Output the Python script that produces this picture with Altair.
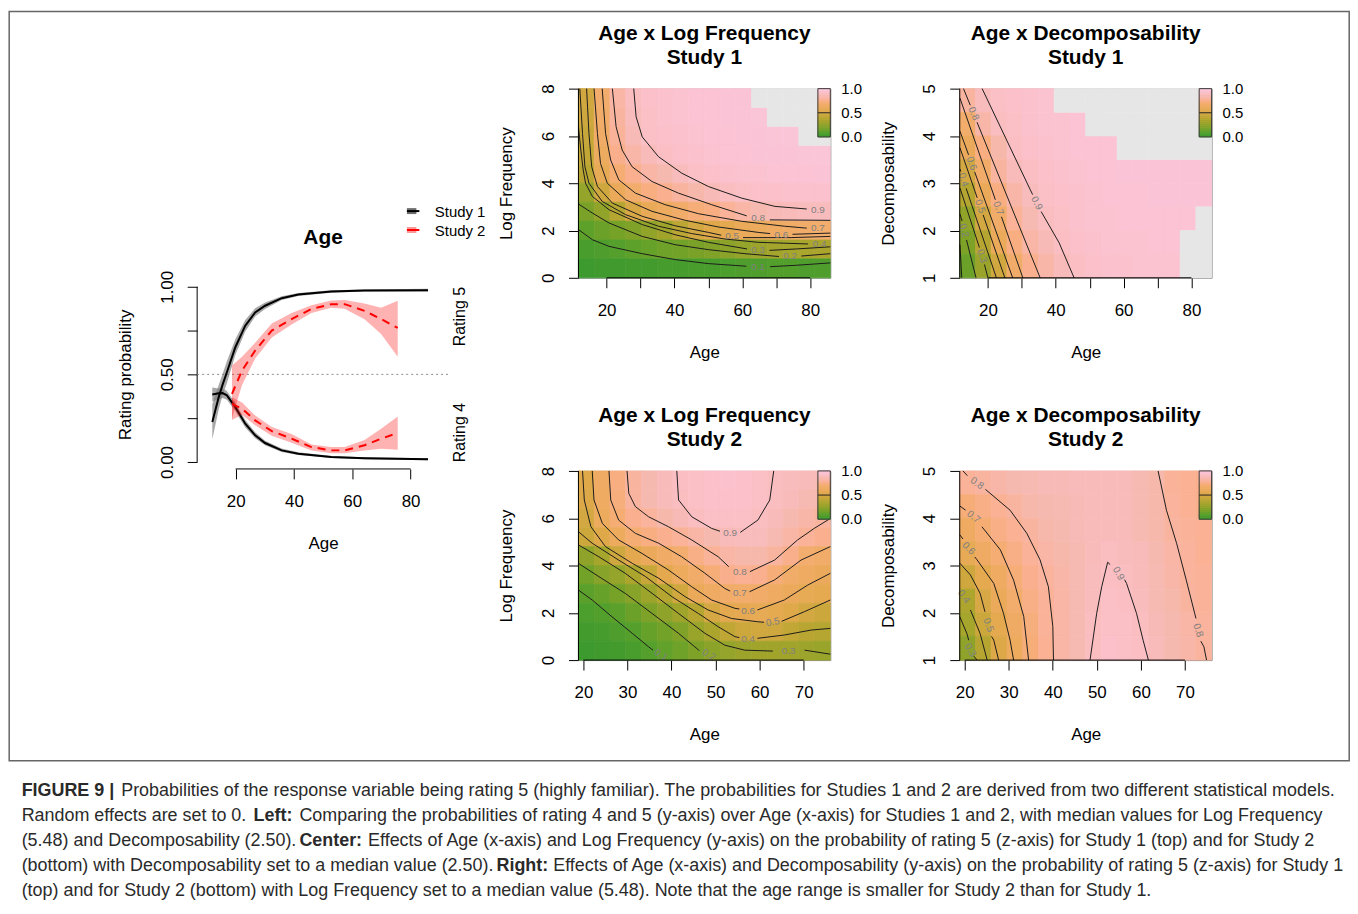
import altair as alt
import pandas as pd

# =====================================================================
# DATA
# =====================================================================
# ---- Left panel: probability of rating 5 / rating 4 over Age ----
S1_AGE = [12, 14.2, 15.5, 17.0, 19.9, 23.3, 26.7, 30.1, 35.8, 41.5, 52.8, 64.2, 86]
S1_R5 = [0.228, 0.37, 0.44, 0.512, 0.655, 0.778, 0.854, 0.892, 0.935, 0.956, 0.973, 0.979, 0.981]
S1_R5_LO = [0.13, 0.30, 0.38, 0.45, 0.61, 0.745, 0.83, 0.873, 0.924, 0.948, 0.966, 0.973, 0.973]
S1_R5_HI = [0.33, 0.44, 0.50, 0.575, 0.70, 0.81, 0.877, 0.91, 0.946, 0.965, 0.98, 0.985, 0.989]
S1_R4 = [0.385, 0.392, 0.393, 0.38, 0.313, 0.218, 0.152, 0.108, 0.066, 0.047, 0.028, 0.021, 0.015]
S1_R4_LO = [0.345, 0.36, 0.365, 0.355, 0.29, 0.197, 0.135, 0.095, 0.057, 0.04, 0.022, 0.015, 0.009]
S1_R4_HI = [0.425, 0.42, 0.42, 0.405, 0.336, 0.24, 0.17, 0.121, 0.076, 0.055, 0.034, 0.027, 0.021]

S2_AGE = [18.75, 22.2, 26.7, 32.4, 39.2, 46.0, 52.8, 57.4, 64.2, 69.9, 75.6]
S2_R5 = [0.389, 0.522, 0.636, 0.75, 0.816, 0.873, 0.901, 0.901, 0.863, 0.816, 0.765]
S2_R5_LO = [0.25, 0.44, 0.59, 0.71, 0.785, 0.85, 0.88, 0.875, 0.815, 0.73, 0.60]
S2_R5_HI = [0.55, 0.60, 0.68, 0.79, 0.85, 0.895, 0.922, 0.925, 0.905, 0.88, 0.92]
S2_R4 = [0.332, 0.304, 0.237, 0.176, 0.133, 0.085, 0.066, 0.066, 0.095, 0.133, 0.165]
S2_R4_LO = [0.24, 0.27, 0.21, 0.15, 0.11, 0.065, 0.05, 0.05, 0.065, 0.075, 0.07]
S2_R4_HI = [0.37, 0.34, 0.265, 0.20, 0.16, 0.10, 0.085, 0.085, 0.125, 0.19, 0.26]

LEGEND_LABELS = ["Study 1", "Study 2"]
RATING_LABELS = ["Rating 5", "Rating 4"]
LEFT_X_TICKS = [20, 40, 60, 80]
LEFT_Y_TICKS = [0, 0.25, 0.5, 0.75, 1.0]

# ---- Heatmap grids: probability of rating 5 (x100), None = not estimated ----
TL_AGE = [14.02, 18.66, 23.30, 27.94, 32.58, 37.22, 41.86, 46.50, 51.14, 55.78, 60.42, 65.06, 69.70, 74.35, 78.99, 83.63]
TL_LF = [7.6, 6.8, 6.0, 5.2, 4.4, 3.6, 2.8, 2.0, 1.2, 0.4]
TL_Z = [
    [48, 69, 82, 90, 93, 94, 95, 96, 96, 97, 97, None, None, None, None, None],
    [47, 67, 81, 89, 92, 94, 95, 96, 96, 97, 97, 98, None, None, None, None],
    [45, 66, 79, 87, 92, 93, 94, 95, 96, 96, 97, 97, 98, 98, None, None],
    [43, 63, 76, 83, 88, 91, 93, 94, 95, 96, 96, 97, 97, 97, 98, 98],
    [40, 58, 71, 77, 82, 85, 89, 92, 93, 94, 95, 95, 96, 96, 96, 97],
    [27, 47, 60, 69, 74, 77, 81, 84, 87, 90, 92, 93, 93, 94, 94, 94],
    [19, 26, 38, 51, 59, 63, 68, 72, 74, 79, 82, 85, 87, 88, 89, 89],
    [12, 15, 18, 21, 26, 31, 41, 49, 53, 56, 60, 62, 64, 66, 68, 69],
    [6, 8, 10, 12, 14, 16, 17, 19, 21, 24, 27, 30, 32, 33, 34, 35],
    [2, 3, 3, 4, 4, 5, 5, 6, 6, 7, 8, 8, 9, 9, 8, 8],
]
TR_AGE = TL_AGE
TR_DEC = [4.75, 4.25, 3.75, 3.25, 2.75, 2.25, 1.75, 1.25]
TR_Z = [
    [81, 89, 92, 93, 94, 95, None, None, None, None, None, None, None, None, None, None],
    [69, 83, 90, 92, 94, 95, 95, 96, None, None, None, None, None, None, None, None],
    [61, 74, 84, 91, 93, 94, 95, 96, 96, 96, None, None, None, None, None, None],
    [49, 68, 81, 88, 91, 93, 94, 95, 96, 96, 97, 97, 97, 97, 97, 97],
    [38, 60, 74, 83, 89, 92, 93, 94, 95, 96, 96, 96, 97, 97, 97, 97],
    [26, 49, 67, 79, 86, 90, 92, 94, 95, 95, 96, 96, 96, 96, 96, None],
    [20, 39, 60, 74, 82, 87, 91, 93, 94, 95, 95, 95, 96, 96, None, None],
    [15, 29, 48, 68, 77, 83, 88, 91, 93, 94, 94, 95, 95, 95, None, None],
]
BL_AGE = [20.66, 24.23, 27.80, 31.38, 34.95, 38.53, 42.10, 45.67, 49.25, 52.82, 56.40, 59.97, 63.55, 67.12, 70.70, 74.26]
BL_LF = [7.6, 6.8, 6.0, 5.2, 4.4, 3.6, 2.8, 2.0, 1.2, 0.4]
BL_Z = [
    [53, 65, 74, 81, 85, 88, 91, 92, 93, 94, 93, 92, 90, 89, 88, 87],
    [52, 64, 73, 81, 85, 88, 90, 92, 93, 93, 93, 92, 90, 88, 86, 85],
    [49, 62, 71, 77, 80, 84, 87, 90, 92, 92, 92, 90, 88, 85, 83, 81],
    [46, 53, 62, 71, 74, 77, 79, 82, 85, 88, 89, 89, 86, 82, 79, 77],
    [25, 33, 47, 55, 61, 66, 70, 75, 79, 82, 84, 84, 81, 76, 70, 67],
    [17, 23, 27, 35, 45, 55, 62, 67, 72, 76, 78, 77, 72, 67, 64, 61],
    [11, 14, 18, 23, 30, 38, 48, 60, 64, 67, 69, 68, 64, 61, 58, 56],
    [7, 9, 11, 15, 20, 25, 31, 39, 50, 55, 57, 58, 56, 53, 49, 46],
    [4, 5, 8, 10, 14, 17, 21, 28, 35, 42, 46, 48, 47, 43, 40, 38],
    [2, 3, 4, 6, 10, 13, 16, 20, 24, 27, 30, 31, 31, 31, 30, 28],
]
BR_AGE = BL_AGE
BR_DEC = [4.75, 4.25, 3.75, 3.25, 2.75, 2.25, 1.75, 1.25]
BR_Z = [
    [79, 81, 83, 85, 86, 87, 87, 88, 88, 88, 88, 86, 84, 79, 78, 77],
    [72, 75, 78, 81, 84, 85, 86, 87, 88, 88, 88, 86, 84, 80, 78, 77],
    [64, 71, 75, 78, 81, 84, 85, 87, 88, 88, 88, 86, 84, 81, 79, 78],
    [58, 65, 71, 75, 79, 82, 84, 86, 88, 90, 89, 88, 85, 82, 80, 78],
    [47, 56, 64, 72, 77, 80, 83, 86, 89, 91, 90, 88, 86, 83, 80, 79],
    [36, 51, 60, 69, 75, 79, 82, 86, 89, 92, 91, 89, 86, 84, 81, 79],
    [33, 46, 56, 65, 73, 79, 82, 86, 90, 92, 92, 90, 87, 85, 82, 80],
    [25, 39, 52, 62, 72, 78, 82, 86, 90, 93, 92, 91, 88, 85, 83, 80],
]

# ---- Contour lines (segments of (age, y) points, broken where labels sit) ----
TL_CONT = [
    [[(11.7, 2.04), (15.8, 1.61), (20.7, 1.33), (30.5, 1.02), (40.2, 0.77), (50.0, 0.60), (61.2, 0.49)], [(68.2, 0.47), (76.0, 0.53), (85.95, 0.63)]],
    [[(11.7, 3.12), (15.8, 2.74), (20.7, 2.32), (30.5, 1.75), (40.2, 1.40), (50.0, 1.19), (60.8, 1.02), (70.8, 0.90)], [(77.4, 0.92), (85.95, 1.02)]],
    [[(11.7, 6.39), (12.4, 5.40), (13.1, 4.56), (13.8, 4.00), (15.8, 3.44), (20.7, 2.88), (30.5, 2.25), (40.2, 1.82), (50.0, 1.50), (61.4, 1.22)], [(68.0, 1.16), (76.0, 1.22), (85.95, 1.31)]],
    [[(12.1, 8.0), (12.9, 6.1), (13.6, 4.70), (14.8, 4.00), (18.7, 3.23), (25.6, 2.67), (35.3, 2.18), (45.1, 1.87), (54.9, 1.64), (64.7, 1.50), (79.4, 1.43)]],
    [[(14.1, 8.0), (14.8, 6.1), (15.6, 4.70), (17.3, 3.86), (21.7, 3.16), (30.5, 2.60), (40.2, 2.20), (50.0, 1.92), (53.8, 1.80)], [(60.2, 1.70), (74.4, 1.70), (85.95, 1.75)]],
    [[(16.3, 8.0), (17.3, 6.1), (18.2, 4.84), (20.2, 4.00), (25.6, 3.30), (33.4, 2.81), (43.2, 2.43), (52.9, 2.15), (64.7, 1.92), (68.2, 1.87)], [(74.8, 1.84), (85.95, 1.89)]],
    [[(18.7, 8.0), (19.7, 6.1), (21.2, 4.98), (23.6, 4.14), (28.5, 3.58), (37.3, 3.09), (47.1, 2.71), (59.8, 2.39), (72.5, 2.18), (79.0, 2.10)]],
    [[(21.7, 8.0), (22.8, 6.39), (24.6, 5.40), (27.5, 4.70), (33.4, 4.07), (41.2, 3.58), (51.0, 3.09), (61.3, 2.62)], [(68.1, 2.45), (85.95, 2.43)]],
    [[(28.0, 8.0), (28.7, 6.81), (30.5, 5.96), (35.3, 5.12), (42.2, 4.42), (50.0, 3.86), (59.8, 3.37), (69.6, 3.02), (79.0, 2.91)]],
]
TL_LABELS = [("0.9", 82.3, 2.88, 0), ("0.8", 64.7, 2.52, 0), ("0.7", 82.3, 2.09, 0), ("0.6", 71.5, 1.83, 0),
             ("0.5", 57.0, 1.75, 0), ("0.4", 82.8, 1.43, 0), ("0.3", 64.7, 1.18, 0), ("0.2", 74.1, 0.90, 0),
             ("0.1", 64.7, 0.47, 0)]

TR_CONT = [
    [[(12.3, 1.0), (11.76, 1.7)]],
    [[(11.76, 2.35), (12.4, 2.2)], [(13.7, 1.8), (16.5, 1.0)]],
    [[(11.76, 2.9), (17.5, 1.64)], [(19.0, 1.28), (20.0, 1.0)]],
    [[(11.76, 3.3), (12.0, 3.25)], [(13.6, 2.89), (22.5, 1.0)]],
    [[(11.76, 3.75), (16.85, 2.69)], [(18.6, 2.33), (25.0, 1.0)]],
    [[(11.76, 4.1), (14.3, 3.6)], [(16.1, 3.24), (27.3, 1.0)]],
    [[(11.76, 4.8), (22.2, 2.65)], [(24.0, 2.29), (30.3, 1.0)]],
    [[(12.8, 5.0), (14.8, 4.65)], [(16.8, 4.29), (35.4, 1.0)]],
    [[(18.3, 5.0), (32.5, 2.86), (33.2, 2.76)], [(35.7, 2.40), (41.0, 1.74), (45.4, 1.0)]],
]
TR_LABELS = [("0.8", 15.8, 4.47, 68), ("0.6", 15.2, 3.42, 70), ("0.4", 12.8, 3.07, 71), ("0.5", 17.7, 2.51, 71),
             ("0.7", 23.1, 2.47, 71), ("0.2", 13.0, 2.0, 76), ("0.3", 18.3, 1.46, 72), ("0.9", 34.4, 2.58, 64)]

BL_CONT = [
    [[(18.87, 2.96), (22.0, 2.54), (26.5, 1.83), (31.1, 1.13), (34.8, 0.56), (35.8, 0.42)]],
    [[(18.87, 4.09), (23.5, 3.53), (29.5, 2.82), (35.6, 1.97), (41.6, 1.13), (45.3, 0.56), (46.3, 0.40)]],
    [[(18.87, 4.87), (23.5, 4.37), (29.5, 3.67), (35.6, 2.82), (41.6, 1.97), (47.6, 1.13), (52.1, 0.63), (56.6, 0.42), (63.0, 0.38)], [(70.2, 0.42), (76.05, 0.25)]],
    [[(18.87, 5.43), (22.0, 4.94), (28.0, 4.23), (34.1, 3.53), (40.1, 2.68), (46.1, 1.97), (50.6, 1.41), (54.4, 0.99), (55.4, 0.95)], [(59.5, 0.92), (65.6, 1.06), (71.7, 1.27), (76.05, 1.34)]],
    [[(19.8, 8.0), (20.2, 6.77), (21.7, 5.64), (25.0, 4.80), (31.1, 4.09), (37.1, 3.46), (43.1, 2.68), (48.3, 2.12), (53.6, 1.76), (59.6, 1.62), (61.0, 1.60)], [(65.0, 1.64), (70.2, 2.05), (76.05, 2.54)]],
    [[(22.0, 8.0), (22.4, 6.77), (24.3, 5.78), (28.0, 5.08), (33.3, 4.51), (39.3, 3.81), (44.6, 3.10), (49.1, 2.54), (54.4, 2.19), (55.4, 2.16)], [(59.5, 2.12), (65.6, 2.54), (70.9, 3.17), (76.05, 3.67)]],
    [[(25.8, 8.0), (26.2, 6.77), (28.0, 5.92), (31.8, 5.36), (37.1, 4.94), (42.3, 4.37), (47.6, 3.67), (52.1, 3.03), (53.3, 2.92)], [(57.7, 2.89), (63.4, 3.39), (69.4, 4.23), (76.05, 4.80)]],
    [[(29.9, 8.0), (30.3, 7.05), (31.8, 6.49), (34.8, 6.06), (39.3, 5.64), (44.6, 5.08), (50.6, 4.37), (53.0, 3.95)], [(57.8, 3.74), (63.4, 4.23), (68.6, 5.08), (72.4, 5.57), (76.05, 5.99)]],
    [[(41.2, 8.0), (41.6, 6.77), (44.6, 6.06), (49.1, 5.57), (51.0, 5.45)], [(55.6, 5.40), (59.6, 5.92), (62.3, 6.77), (63.2, 8.0)]],
]
BL_LABELS = [("0.9", 53.3, 5.39, 0), ("0.8", 55.5, 3.72, 0), ("0.7", 55.5, 2.85, 0), ("0.6", 57.4, 2.09, 0),
             ("0.5", 63.0, 1.60, 348), ("0.4", 57.4, 0.88, 0), ("0.3", 66.6, 0.40, 0), ("0.2", 48.5, 0.22, 30),
             ("0.1", 37.6, 0.22, 30)]

BR_CONT = [
    [[(18.87, 1.92), (20.5, 1.56), (20.9, 1.42)], [(22.1, 1.08), (22.8, 1.0)]],
    [[(21.3, 2.06), (23.5, 1.56), (25.1, 1.0)]],
    [[(18.87, 3.05), (21.3, 2.80), (23.5, 2.41), (24.6, 2.02)], [(26.1, 1.50), (26.6, 1.42), (27.7, 1.0)]],
    [[(18.87, 3.65), (19.6, 3.56)], [(22.3, 3.18), (22.8, 3.12), (26.6, 2.62), (28.8, 1.99), (30.3, 1.42), (31.1, 1.0)]],
    [[(18.87, 4.26), (20.2, 4.17)], [(23.9, 3.82), (28.1, 3.33), (31.1, 2.69), (33.4, 1.92), (34.5, 1.0)]],
    [[(19.6, 5.0), (20.6, 4.9)], [(24.7, 4.61), (30.3, 4.17), (34.1, 3.68), (37.1, 3.12), (39.0, 2.55), (40.0, 1.71), (40.15, 1.0)]],
    [[(48.45, 1.0), (49.96, 1.99), (51.1, 2.55), (52.45, 3.07), (53.0, 3.02)], [(56.3, 2.70), (56.75, 2.62), (59.0, 1.99), (60.5, 1.42), (61.7, 1.0)]],
    [[(63.9, 5.0), (65.8, 4.17), (68.1, 3.47), (70.3, 2.69), (72.2, 1.99), (72.5, 1.88)], [(73.6, 1.40), (74.3, 1.28), (74.9, 1.0)]],
]
BR_LABELS = [("0.8", 22.8, 4.74, 35), ("0.7", 22.0, 4.03, 40), ("0.6", 20.9, 3.36, 45), ("0.5", 25.4, 1.74, 70),
             ("0.4", 19.8, 2.34, 55), ("0.3", 21.3, 1.21, 60), ("0.9", 54.9, 2.83, 60), ("0.8", 73.0, 1.63, 72)]

# ---- colour bar ----
CBAR_STEPS = [0.00, 0.04, 0.08, 0.12, 0.16, 0.20, 0.24, 0.28, 0.32, 0.36, 0.40, 0.44, 0.48,
              0.52, 0.56, 0.60, 0.64, 0.68, 0.72, 0.76, 0.80, 0.84, 0.88, 0.92, 0.96]
CBAR_TICKS = [0.0, 0.5, 1.0]
CBAR_TICK_LABELS = ["0.0", "0.5", "1.0"]

# ---- caption ----
CAPTION = [
    [("FIGURE 9 |", True), ("Probabilities of the response variable being rating 5 (highly familiar). The probabilities for Studies 1 and 2 are derived from two different statistical models.", False)],
    [("Random effects are set to 0.", False), ("Left:", True), ("Comparing the probabilities of rating 4 and 5 (y-axis) over Age (x-axis) for Studies 1 and 2, with median values for Log Frequency", False)],
    [("(5.48) and Decomposability (2.50).", False), ("Center:", True), ("Effects of Age (x-axis) and Log Frequency (y-axis) on the probability of rating 5 (z-axis) for Study 1 (top) and for Study 2", False)],
    [("(bottom) with Decomposability set to a median value (2.50).", False), ("Right:", True), ("Effects of Age (x-axis) and Decomposability (y-axis) on the probability of rating 5 (z-axis) for Study 1", False)],
    [("(top) and for Study 2 (bottom) with Log Frequency set to a median value (5.48). Note that the age range is smaller for Study 2 than for Study 1.", False)],
]

# =====================================================================
# LAYOUT / STYLE
# =====================================================================
FONT = "Liberation Sans"
CAP_FONT = "Liberation Sans"
W, H = 253, 190
LEFT_H = 382
ORIGIN_X, ORIGIN_Y = 198.3, 87.0          # page position of the left panel's view
ROW2_Y = 471.0                            # page y of the second row
FRAME_W = 1.5
FRAME = (9.5, 9.5, 1355.5, 762.0)         # page left, top, right, bottom (stroke centre)
CAP_X = [[22, 122], [22, 255, 301], [22, 301, 370], [22, 499, 556], [22]]
CAP_Y = [793, 818, 843, 868, 893]
CAP_SIZE = 18

Z_STOPS = [0.0, 0.1, 0.25, 0.4, 0.55, 0.7, 0.85, 1.0]
Z_COLORS = ["#36982f", "#55a02c", "#8fa32a", "#b9a632", "#e4a94e", "#f3ad6e", "#f6b9b0", "#fac8de"]
NA_COLOR = "#e6e6e6"
CSCALE = alt.Scale(domain=Z_STOPS, range=Z_COLORS, clamp=True)

ONE = pd.DataFrame({"a": [0]})


def x_axis(values, label_expr=None):
    kw = dict(values=values, domain=False, grid=False, ticks=True, tickSize=10, tickColor="black",
              tickWidth=1, labelFont=FONT, labelFontSize=17, labelColor="black", labelPadding=15,
              labelBaseline="top", labelAlign="center", labelAngle=0, labelFlush=False,
              labelOverlap=False, title="Age", titleFont=FONT, titleFontSize=17,
              titleFontWeight="normal", titleColor="black", titleX=W / 2, titleY=75,
              titleAlign="center", titleBaseline="middle", titleAngle=0)
    if label_expr:
        kw["labelExpr"] = label_expr
    return alt.Axis(**kw)


def y_axis(values, title, title_y, label_expr=None):
    kw = dict(values=values, domain=False, grid=False, ticks=True, tickSize=10, tickColor="black",
              tickWidth=1, labelFont=FONT, labelFontSize=17, labelColor="black", labelPadding=15,
              labelAngle=-90, labelAlign="center", labelBaseline="alphabetic", labelFlush=False,
              labelOverlap=False, title=title, titleFont=FONT, titleFontSize=17,
              titleFontWeight="normal", titleColor="black", titleX=-72, titleY=title_y,
              titleAlign="center", titleBaseline="middle", titleAngle=270)
    if label_expr:
        kw["labelExpr"] = label_expr
    return alt.Axis(**kw)


def grid_df(ages, ys, z):
    hx = (ages[-1] - ages[0]) / (len(ages) - 1) / 2
    hy = abs(ys[0] - ys[-1]) / (len(ys) - 1) / 2
    rows = []
    for r, yv in enumerate(ys):
        for c, xv in enumerate(ages):
            v = z[r][c]
            rows.append({"x": xv - hx, "x2": xv + hx, "y": yv - hy, "y2": yv + hy,
                         "z": None if v is None else v / 100.0, "na": v is None})
    return pd.DataFrame(rows)


def contour_df(cont):
    rows = []
    for li, segs in enumerate(cont):
        for si, seg in enumerate(segs):
            for pi, (xv, yv) in enumerate(seg):
                rows.append({"seg": f"{li}-{si}", "i": pi, "x": xv, "y": yv})
    return pd.DataFrame(rows)


def heat_panel(title, xdom, ydom, ages, ys, z, cont, labels, xticks, xexpr, yticks, ytitle):
    xs = alt.Scale(domain=list(xdom), nice=False, zero=False)
    yscale = alt.Scale(domain=list(ydom), nice=False, zero=False)
    kx = W / (xdom[1] - xdom[0])
    ky = H / (ydom[1] - ydom[0])
    XAX = x_axis(xticks, xexpr)
    YAX = y_axis(yticks, ytitle, H / 2)
    X = alt.X("x:Q", scale=xs, axis=XAX)
    Y = alt.Y("y:Q", scale=yscale, axis=YAX)

    g = grid_df(ages, ys, z)
    layers = []
    layers.append(alt.Chart(g[~g["na"]]).mark_rect(strokeWidth=0.7).encode(
        x=X, x2="x2:Q", y=Y, y2="y2:Q",
        fill=alt.Fill("z:Q", scale=CSCALE, legend=None),
        stroke=alt.Stroke("z:Q", scale=CSCALE, legend=None)))
    na = g[g["na"]]
    if len(na):
        layers.append(alt.Chart(na).mark_rect(fill=NA_COLOR, stroke=NA_COLOR, strokeWidth=0.7).encode(
            x=X, x2="x2:Q", y=Y, y2="y2:Q"))
    layers.append(alt.Chart(contour_df(cont)).mark_line(color="#1c1c1c", strokeWidth=1).encode(
        x=X, y=Y, detail="seg:N", order="i:Q"))
    lab = pd.DataFrame([{"t": t, "x": a, "y": b, "a": ang} for (t, a, b, ang) in labels])
    layers.append(alt.Chart(lab).mark_text(font=FONT, fontSize=10, color="#808080", align="center",
                                           baseline="middle").encode(
        x=X, y=Y, text="t:N", angle=alt.Angle("a:Q", scale=None)))
    # colour bar (inside the top-right corner, like the reference)
    cb_x0 = xdom[1] - 12.5 / kx
    cb_x1 = xdom[1]
    cb_top = ydom[1]
    cb_bot = ydom[1] - 48.5 / ky
    span = cb_top - cb_bot
    step = CBAR_STEPS[1] - CBAR_STEPS[0]
    cb = pd.DataFrame([{"x": cb_x0, "x2": cb_x1, "y": cb_bot + s * span, "y2": cb_bot + (s + step) * span,
                        "z": s + step / 2} for s in CBAR_STEPS])
    layers.append(alt.Chart(cb).mark_rect(strokeWidth=0.7).encode(
        x=X, x2="x2:Q", y=Y, y2="y2:Q",
        fill=alt.Fill("z:Q", scale=CSCALE, legend=None),
        stroke=alt.Stroke("z:Q", scale=CSCALE, legend=None)))
    box = pd.DataFrame([{"x": cb_x0, "x2": cb_x1, "y": cb_bot, "y2": cb_top}])
    layers.append(alt.Chart(box).mark_rect(fillOpacity=0, stroke="#3a3a3a", strokeWidth=1).encode(
        x=X, x2="x2:Q", y=Y, y2="y2:Q"))
    mid = pd.DataFrame([{"x": cb_x0, "x2": cb_x1, "y": cb_bot + 0.5 * span}])
    layers.append(alt.Chart(mid).mark_rule(color="#222222", strokeWidth=1).encode(x=X, x2="x2:Q", y=Y))
    cbl = pd.DataFrame([{"x": cb_x1 + 11 / kx, "y": cb_bot + v * span, "t": t}
                        for v, t in zip(CBAR_TICKS, CBAR_TICK_LABELS)])
    layers.append(alt.Chart(cbl).mark_text(font=FONT, fontSize=15, color="black", align="left",
                                           baseline="middle").encode(x=X, y=Y, text="t:N"))
    # axis lines spanning the tick range (R style)
    ax = pd.DataFrame([{"x": xticks[0], "x2": xticks[-1], "y": ydom[0]}])
    layers.append(alt.Chart(ax).mark_rule(color="black", strokeWidth=1).encode(x=X, x2="x2:Q", y=Y))
    ay = pd.DataFrame([{"x": xdom[0], "y": yticks[0], "y2": yticks[-1]}])
    layers.append(alt.Chart(ay).mark_rule(color="black", strokeWidth=1).encode(x=X, y=Y, y2="y2:Q"))

    return alt.layer(*layers).properties(
        width=W, height=H,
        view=alt.ViewBackground(stroke="#8a8a8a", strokeWidth=1),
        title=alt.TitleParams(text=title, font=FONT, fontSize=21, fontWeight="bold", color="black",
                              anchor="middle", frame="group", offset=14, lineHeight=24),
    )


# =====================================================================
# LEFT PANEL
# =====================================================================
def band_df(ages, fit, lo, hi, rating):
    return pd.DataFrame({"x": ages, "y": fit, "lo": lo, "hi": hi, "rating": rating})


s1 = pd.concat([band_df(S1_AGE, S1_R5, S1_R5_LO, S1_R5_HI, "5"), band_df(S1_AGE, S1_R4, S1_R4_LO, S1_R4_HI, "4")])
s2 = pd.concat([band_df(S2_AGE, S2_R5, S2_R5_LO, S2_R5_HI, "5"), band_df(S2_AGE, S2_R4, S2_R4_LO, S2_R4_HI, "4")])

LX = (6.8, 93.2)
LY = (-0.04, -0.04 + LEFT_H / 175.9)
lxs = alt.Scale(domain=list(LX), nice=False, zero=False)
lys = alt.Scale(domain=list(LY), nice=False, zero=False)
L_XAX = x_axis(LEFT_X_TICKS)
L_YAX = y_axis(LEFT_Y_TICKS, "Rating probability", 287,
               label_expr="datum.value == 0.25 || datum.value == 0.75 ? '' : format(datum.value, '.2f')")
LX_ = alt.X("x:Q", scale=lxs, axis=L_XAX)
LY_ = alt.Y("y:Q", scale=lys, axis=L_YAX)
LLO = alt.Y("lo:Q", scale=lys, axis=L_YAX)

left_layers = []
ax_l = pd.DataFrame([{"x": LEFT_X_TICKS[0], "x2": LEFT_X_TICKS[-1], "y": LY[0]}])
left_layers.append(alt.Chart(ax_l).mark_rule(color="black", strokeWidth=1).encode(x=LX_, x2="x2:Q", y=LY_))
ay_l = pd.DataFrame([{"x": LX[0], "y": LEFT_Y_TICKS[0], "y2": LEFT_Y_TICKS[-1]}])
left_layers.append(alt.Chart(ay_l).mark_rule(color="black", strokeWidth=1).encode(x=LX_, y=LY_, y2="y2:Q"))
half = pd.DataFrame([{"x": LX[0], "x2": LX[1], "y": 0.5}])
left_layers.append(alt.Chart(half).mark_rule(color="#8c8c8c", strokeWidth=1, strokeDash=[2, 3]).encode(
    x=LX_, x2="x2:Q", y=LY_))
left_layers.append(alt.Chart(s1).mark_area(color="#7a7a7a", opacity=0.65).encode(
    x=LX_, y=LLO, y2="hi:Q", detail="rating:N"))
left_layers.append(alt.Chart(s1).mark_line(color="black", strokeWidth=2).encode(x=LX_, y=LY_, detail="rating:N"))
left_layers.append(alt.Chart(s2).mark_area(color="#ff0000", opacity=0.3).encode(
    x=LX_, y=LLO, y2="hi:Q", detail="rating:N"))
left_layers.append(alt.Chart(s2).mark_line(color="#ff0000", strokeWidth=2, strokeDash=[8, 6]).encode(
    x=LX_, y=LY_, detail="rating:N"))

# panel title, legend, side labels (positions relative to the panel's view)
left_layers.append(alt.Chart(ONE).mark_text(text="Age", font=FONT, fontSize=21, fontWeight="bold",
                                            color="black", align="center", baseline="middle").encode(
    x=alt.value(W / 2), y=alt.value(237 - ORIGIN_Y)))
for k, (lab, fillc, linec) in enumerate(zip(LEGEND_LABELS, ["#6e6e6e", "#f99a9a"], ["black", "#ff0000"])):
    ly = [210.0, 229.0][k] - ORIGIN_Y
    left_layers.append(alt.Chart(ONE).mark_rect(color=fillc).encode(
        x=alt.value(409 - ORIGIN_X), x2=alt.value(418.5 - ORIGIN_X), y=alt.value(ly - 3), y2=alt.value(ly + 3)))
    left_layers.append(alt.Chart(ONE).mark_rule(color=linec, strokeWidth=2).encode(
        x=alt.value(409 - ORIGIN_X), x2=alt.value(421.5 - ORIGIN_X), y=alt.value(ly)))
    left_layers.append(alt.Chart(ONE).mark_text(text=lab, font=FONT, fontSize=15, color="black",
                                                align="left", baseline="middle").encode(
        x=alt.value(437 - ORIGIN_X), y=alt.value(ly + 1)))
for k, lab in enumerate(RATING_LABELS):
    left_layers.append(alt.Chart(ONE).mark_text(text=lab, font=FONT, fontSize=16, color="black", angle=270,
                                                align="center", baseline="middle").encode(
        x=alt.value(462 - ORIGIN_X), y=alt.value([316.0, 432.5][k] - ORIGIN_Y)))
# figure frame
left_layers.append(alt.Chart(ONE).mark_rect(fillOpacity=0, stroke="#666666", strokeWidth=FRAME_W).encode(
    x=alt.value(FRAME[0] - ORIGIN_X), x2=alt.value(FRAME[2] - ORIGIN_X),
    y=alt.value(FRAME[1] - ORIGIN_Y), y2=alt.value(FRAME[3] - ORIGIN_Y)))

left = alt.layer(*left_layers).properties(width=W, height=LEFT_H)

# =====================================================================
# HEATMAP PANELS
# =====================================================================
EXPR20 = "datum.value % 20 == 0 ? datum.label : ''"
tl = heat_panel(["Age x Log Frequency", "Study 1"], (11.7, 85.95), (0, 8), TL_AGE, TL_LF, TL_Z, TL_CONT,
                TL_LABELS, [20, 30, 40, 50, 60, 70, 80], EXPR20, [0, 2, 4, 6, 8], "Log Frequency")
tr = heat_panel(["Age x Decomposability", "Study 1"], (11.7, 85.95), (1, 5), TR_AGE, TR_DEC, TR_Z, TR_CONT,
                TR_LABELS, [20, 30, 40, 50, 60, 70, 80], EXPR20, [1, 2, 3, 4, 5], "Decomposability")
bl = heat_panel(["Age x Log Frequency", "Study 2"], (18.87, 76.05), (0, 8), BL_AGE, BL_LF, BL_Z, BL_CONT,
                BL_LABELS, [20, 30, 40, 50, 60, 70], None, [0, 2, 4, 6, 8], "Log Frequency")
br = heat_panel(["Age x Decomposability", "Study 2"], (18.87, 76.05), (1, 5), BR_AGE, BR_DEC, BR_Z, BR_CONT,
                BR_LABELS, [20, 30, 40, 50, 60, 70], None, [1, 2, 3, 4, 5], "Decomposability")

# =====================================================================
# CAPTION (sits in the grid cell below the left panel)
# =====================================================================
cap_rows = []
for li, segs in enumerate(CAPTION):
    for si, (txt, bold) in enumerate(segs):
        cap_rows.append({"px": CAP_X[li][si] - ORIGIN_X, "py": CAP_Y[li] - ROW2_Y, "t": txt, "b": bold})
cap_df = pd.DataFrame(cap_rows)
cap_norm = alt.Chart(cap_df[~cap_df["b"]]).mark_text(font=CAP_FONT, fontSize=CAP_SIZE, color="#2a2a2a",
                                                     align="left", baseline="middle").encode(
    x=alt.X("px:Q", scale=None, axis=None), y=alt.Y("py:Q", scale=None, axis=None), text="t:N")
cap_bold = alt.Chart(cap_df[cap_df["b"]]).mark_text(font=CAP_FONT, fontSize=CAP_SIZE, fontWeight="bold",
                                                    color="#2a2a2a", align="left", baseline="middle").encode(
    x=alt.X("px:Q", scale=None, axis=None), y=alt.Y("py:Q", scale=None, axis=None), text="t:N")
caption = alt.layer(cap_norm, cap_bold).properties(width=W, height=H)

chart = alt.concat(left, tl, tr, caption, bl, br, columns=3, bounds="flush",
                   spacing=alt.RowColnumber(row=ROW2_Y - ORIGIN_Y - LEFT_H, column=130)
                   ).properties(padding=0, background="white",
                                autosize=alt.AutoSizeParams(type="pad")).configure_view(stroke=None)

chart.save("out.html", embed_options={"renderer": "svg", "actions": False})
